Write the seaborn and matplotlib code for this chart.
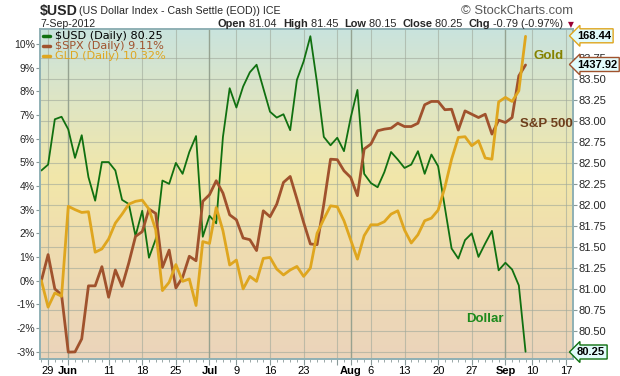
import numpy as np
import pandas as pd
import matplotlib
matplotlib.use("Agg")
import matplotlib.pyplot as plt
import seaborn as sns
from matplotlib.colors import LinearSegmentedColormap
from matplotlib.lines import Line2D

# trading calendar (May 25 .. Sep 18, 2012)
holidays = ["2012-05-28", "2012-07-04", "2012-09-03"]
calendar = pd.bdate_range("2012-05-25", "2012-09-18", freq="C", holidays=holidays)

# $USD close (right axis, price)
usd = [82.41, 82.48, 83.02, 83.05, 82.90, 82.56, 82.83, 82.33, 82.05, 82.51,
       82.51, 82.41, 82.06, 82.01, 81.63, 81.93, 81.37, 81.59, 82.29, 82.25,
       82.50, 82.37, 82.63, 82.82, 81.62, 81.87, 81.78, 82.81, 83.39, 83.16,
       83.41, 83.58, 83.67, 83.39, 83.11, 83.04, 83.08, 82.89, 83.49, 83.71,
       84.01, 83.45, 82.81, 82.71, 82.80, 82.64, 83.04, 83.37, 82.37, 82.26,
       82.21, 82.39, 82.63, 82.54, 82.44, 82.48, 82.64, 82.37, 82.60, 82.46,
       81.97, 81.48, 81.36, 81.58, 81.66, 81.38, 81.54, 81.69, 81.22, 81.31,
       81.23, 81.04, 80.25]
# $SPX % change (left axis)
spx = [0.00, 1.10, -0.35, -0.60, -3.02, -3.01, -2.46, -0.22, -0.22, 0.59,
       -0.70, 0.45, -0.24, 0.75, 1.87, 2.07, 3.02, 2.84, 0.56, 1.29,
       -0.31, 0.14, 1.03, 0.84, 3.35, 3.63, 4.22, 3.70, 2.78, 2.57,
       1.80, 1.73, 1.27, 2.95, 2.70, 3.23, 4.15, 4.40, 3.45, 2.46,
       1.55, 1.52, 3.23, 5.13, 5.11, 4.64, 4.36, 3.59, 5.56, 5.77,
       6.33, 6.40, 6.44, 6.65, 6.51, 6.51, 6.65, 7.43, 7.57, 7.57,
       7.22, 7.24, 6.36, 7.17, 7.03, 6.89, 7.03, 6.19, 6.78, 6.68,
       6.89, 8.65, 9.11]
# GLD % change (left axis)
gld = [0.00, -1.12, -0.52, -0.66, 3.14, 3.00, 2.88, 2.91, 1.20, 1.34,
       1.76, 2.43, 2.81, 3.23, 3.35, 3.40, 3.02, 2.15, -0.42, -0.07,
       0.68, -0.03, 0.07, -1.05, 1.65, 1.57, 3.09, 2.11, 0.66, 0.87,
       -0.35, 0.18, -0.03, 0.94, 0.98, 0.49, 0.24, 0.45, 0.60, 0.18,
       0.53, 2.00, 2.60, 3.16, 3.12, 2.53, 1.72, 0.91, 1.90, 2.36,
       2.36, 2.49, 2.81, 2.95, 2.14, 1.59, 1.94, 2.53, 2.64, 2.98,
       3.94, 5.13, 6.05, 6.08, 5.70, 5.91, 5.18, 5.13, 7.55, 7.74,
       7.57, 8.02, 10.32]

tick_dates = ["2012-05-29", "2012-06-01", "2012-06-11", "2012-06-18", "2012-06-25",
              "2012-07-02", "2012-07-09", "2012-07-16", "2012-07-23", "2012-07-30",
              "2012-08-01", "2012-08-06", "2012-08-13", "2012-08-20", "2012-08-27",
              "2012-09-04", "2012-09-10", "2012-09-17"]
tick_labels = ["29", "Jun", "11", "18", "25", "Jul", "9", "16", "23", "",
               "Aug", "6", "13", "20", "27", "Sep", "10", "17"]
months = ["Jun", "Jul", "Aug", "Sep"]

price_ticks = np.arange(80.25, 83.76, 0.25)
pct_ticks = list(range(-3, 11))

c_usd, c_spx, c_gld = "#107010", "#a0522d", "#dfa61f"

W, H = 620, 376
fx = lambda px: px / W
fy = lambda py: 1 - py / H

sns.set_theme(style="white")
plt.rcParams["font.family"] = ["Liberation Sans", "DejaVu Sans"]

fig = plt.figure(figsize=(6.2, 3.76), dpi=100)
L, R, T, B = 40.3, 573.3, 29, 359
ax = fig.add_axes([fx(L), fy(B), (R - L) / W, (B - T) / H])
axp = ax.twinx()
ax.yaxis.tick_right()
axp.yaxis.tick_left()

# background gradient
bg = LinearSegmentedColormap.from_list(
    "bg", [(0, "#ebd4bb"), (0.33, "#efdcb0"), (0.55, "#f2e7a9"),
           (0.8, "#dde5c6"), (1, "#c9e3dd")])
ax.imshow(np.linspace(0, 1, 256).reshape(-1, 1), cmap=bg, aspect="auto",
          extent=[0, 1, 0, 1], transform=ax.transAxes, origin="lower", zorder=0)

x = np.arange(len(usd))
sns.lineplot(x=x, y=usd, ax=ax, color=c_usd, linewidth=1.3, zorder=3)
sns.lineplot(x=x, y=spx, ax=axp, color=c_spx, linewidth=2.0)
sns.lineplot(x=x, y=gld, ax=axp, color=c_gld, linewidth=2.0)

ax.set_xlim(-0.16, 79.1)
ax.set_ylim(80.163, 84.096)
axp.set_ylim(-3.31, 10.63)
ax.set_xlabel("")
ax.set_ylabel("")
axp.set_ylabel("")

# x ticks / grid
tpos = [calendar.get_loc(pd.Timestamp(d)) for d in tick_dates]
ax.set_xticks(tpos)
ax.set_xticklabels(tick_labels, fontsize=8, color="black")
for lbl in ax.get_xticklabels():
    if lbl.get_text() in months:
        lbl.set_fontweight("bold")
ax.set_xticks(range(0, 79), minor=True)
ax.tick_params(axis="x", which="major", bottom=True, length=4, width=0.8,
               color="#8a9a9a", pad=1)
ax.tick_params(axis="x", which="minor", bottom=True, length=2, width=0.6,
               color="#8a9a9a")
ax.grid(axis="x", which="major", color="#9fa89a", linewidth=0.8, alpha=0.6)
for p, lab in zip(tpos, tick_labels):
    if lab in months:
        ax.axvline(p, color="#8f9c8a", linewidth=1.0, alpha=0.8, zorder=0.6)

# y ticks / grid
ax.set_yticks(price_ticks)
ax.set_yticklabels([""] + [f"{v:.2f}" for v in price_ticks[1:]], fontsize=8)
ax.tick_params(axis="y", right=True, left=False, length=3, width=0.8,
               color="#8a9a9a", pad=1)
ax.grid(axis="y", color="#9fa89a", linewidth=0.8, alpha=0.6)
axp.set_yticks(pct_ticks)
axp.set_yticklabels([f"{v}%" for v in pct_ticks], fontsize=7.5)
axp.tick_params(axis="y", left=True, right=False, length=3, width=0.8,
                color="#8a9a9a", pad=1)
for a in (ax, axp):
    for s in a.spines.values():
        s.set_color("#8fb0b4")
        s.set_linewidth(1.2)

# legend
legend_rows = [("$USD (Daily) 80.25", c_usd, "black"),
               ("$SPX (Daily) 9.11%", c_spx, c_spx),
               ("GLD (Daily) 10.32%", c_gld, c_gld)]
for k, (txt, lc, tc) in enumerate(legend_rows):
    yy = 35.7 + 10 * k
    fig.add_artist(Line2D([fx(42.5), fx(50)], [fy(yy), fy(yy)], color=lc,
                          linewidth=2.5))
    fig.text(fx(55), fy(yy), txt, fontsize=8.1, color=tc, va="center",
             family="DejaVu Sans")

# series labels
fig.text(fx(533), fy(55.7), "Gold", fontsize=9.5, fontweight="bold",
         color="#858200", va="center")
fig.text(fx(520), fy(124.3), "S&P 500", fontsize=9.5, fontweight="bold",
         color="#6e3f1c", va="center")
fig.text(fx(466), fy(319.5), "Dollar", fontsize=9.5, fontweight="bold",
         color="#1d8a1d", va="center")

# last value boxes
for txt, yy, ec in [("168.44", 35.8, c_gld), ("1437.92", 64.5, c_spx),
                    ("80.25", 352, c_usd)]:
    fig.text(fx(577), fy(yy), txt, fontsize=8, fontweight="bold", va="center",
             color="black",
             bbox=dict(boxstyle="larrow,pad=0.18", fc="#e2fbfb", ec=ec, lw=1))

# header
fig.text(fx(40), fy(11.5), "$USD", fontsize=10.2, fontweight="bold", va="center")
fig.text(fx(79), fy(11.5), "(US Dollar Index - Cash Settle (EOD)) ICE",
         fontsize=7.7, va="center")
fig.text(fx(40), fy(24), "7-Sep-2012", fontsize=7.6, va="center")
fig.text(fx(573), fy(10.5), "\u00a9 StockCharts.com", fontsize=9.4,
         color="#5a5a5a", va="center", ha="right")

renderer = fig.canvas.get_renderer()
parts = [("Open", "bold"), (" 81.04  ", "normal"), ("High", "bold"),
         (" 81.45  ", "normal"), ("Low", "bold"), (" 80.15  ", "normal"),
         ("Close", "bold"), (" 80.25  ", "normal"), ("Chg", "bold"),
         (" -0.79 (-0.97%)", "normal")]
xpos = 218
for s, w in parts:
    t = fig.text(fx(xpos), fy(24), s, fontsize=7.9, fontweight=w, va="center")
    xpos += t.get_window_extent(renderer).width
fig.text(fx(xpos + 4), fy(24.5), "\u25bc", fontsize=5.5, color="#990033",
         va="center", family="DejaVu Sans")

fig.savefig("out.png", dpi=100)
